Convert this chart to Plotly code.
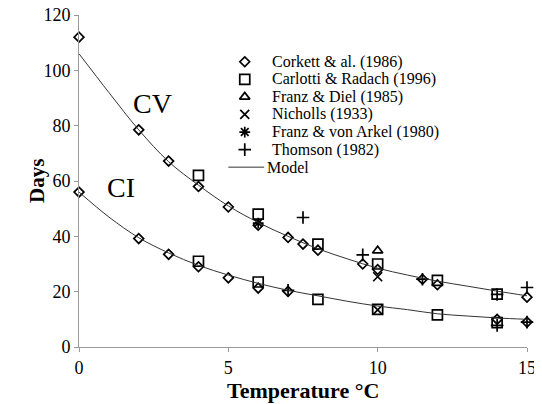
import plotly.graph_objects as go

corkett_t = [0, 2, 3, 4, 5, 6, 7, 7.5, 8, 9.5, 10, 11.5, 12, 15,
             0, 2, 3, 4, 5, 6, 7, 14, 15]
corkett_d = [112, 78.5, 67.2, 58, 50.6, 44, 39.6, 37.2, 35, 30, 28, 24.5, 22.5, 18,
             56, 39.2, 33.5, 29, 25, 21.3, 20.1, 10, 9]

carlotti_t = [4, 6, 8, 10, 12, 14, 4, 6, 8, 10, 12, 14]
carlotti_d = [62, 48, 37.2, 30, 24.1, 19.1, 31, 23.5, 17.2, 13.6, 11.6, 8.8]

franz_diel_t = [10]
franz_diel_d = [34.8]

nicholls_t = [10, 10]
nicholls_d = [25.4, 13.4]

franz_arkel_t = [6]
franz_arkel_d = [44.8]

thomson_t = [7.5, 9.5, 11.5, 14, 15, 7, 14, 15]
thomson_d = [46.8, 33.3, 24.5, 19, 21.5, 20.5, 7.8, 9]

# Model curves
model_t = list(range(16))
model_cv = [106, 92, 78.5, 67, 58.5, 51, 45, 40, 35.5, 31.8, 28.5, 26, 23.8, 22, 20.2, 18.5]
model_ci = [56, 47, 39.5, 34, 29.5, 26, 23, 20.5, 18.5, 16.5, 14.8, 13.5, 12, 11.2, 10.5, 10]

serif = "Liberation Serif"

# legend drawn by hand (placed in data units, top-right of the curves)
LEG_X = 5.55
LEG_TEXT_X = 6.38
LEG_TOP = 103.1
LEG_STEP = 6.35

fig = go.Figure()

series = [
    ("Corkett & al. (1986)", corkett_t, corkett_d, "diamond-open", 7.5),
    ("Carlotti & Radach (1996)", carlotti_t, carlotti_d, "square-open", 10),
    ("Franz & Diel (1985)", franz_diel_t, franz_diel_d, "triangle-up-open", 9),
    ("Nicholls (1933)", nicholls_t, nicholls_d, "x-thin-open", 9),
    ("Franz & von Arkel (1980)", franz_arkel_t, franz_arkel_d, "asterisk-open", 9),
    ("Thomson (1982)", thomson_t, thomson_d, "cross-thin-open", 9),
]
for i, (name, xs, ys, sym, size) in enumerate(series):
    mk = dict(symbol=sym, size=size, color="black",
              line=dict(color="black", width=1.7))
    fig.add_trace(go.Scatter(x=xs, y=ys, mode="markers", name=name,
                             marker=mk, cliponaxis=False, showlegend=False))
    ly = LEG_TOP - i * LEG_STEP
    fig.add_trace(go.Scatter(x=[LEG_X], y=[ly], mode="markers", marker=mk,
                             showlegend=False, hoverinfo="skip"))
    fig.add_annotation(x=LEG_TEXT_X, y=ly, text=name, showarrow=False,
                       xanchor="left", yanchor="middle",
                       font=dict(family=serif, size=16, color="black"))

line_style = dict(color="#333", width=1, shape="spline")
fig.add_trace(go.Scatter(x=model_t, y=model_cv, mode="lines", name="Model",
                         line=line_style, showlegend=False))
fig.add_trace(go.Scatter(x=model_t, y=model_ci, mode="lines", name="Model",
                         line=line_style, showlegend=False))

ly = LEG_TOP - 6 * LEG_STEP
fig.add_trace(go.Scatter(x=[5.0, 6.2], y=[ly, ly], mode="lines",
                         line=dict(color="#333", width=1), showlegend=False,
                         hoverinfo="skip"))
fig.add_annotation(x=6.23, y=ly, text="Model", showarrow=False,
                   xanchor="left", yanchor="middle",
                   font=dict(family=serif, size=16, color="black"))

fig.add_annotation(x=2.46, y=88, text="CV", showarrow=False,
                   font=dict(family=serif, size=28, color="black"))
fig.add_annotation(x=1.42, y=57.6, text="CI", showarrow=False,
                   font=dict(family=serif, size=28, color="black"))

# axis titles
fig.add_annotation(x=0.5, y=0, xref="paper", yref="paper", yshift=-43,
                   text="<b>Temperature °C</b>", showarrow=False, yanchor="middle",
                   font=dict(family=serif, size=22, color="black"))
fig.add_annotation(x=0, y=0.5, xref="paper", yref="paper", xshift=-56,
                   text="<b>Days</b>", showarrow=False, textangle=-90,
                   font=dict(family=serif, size=21, color="black"))

fig.update_layout(
    width=534, height=396,
    margin=dict(l=71, r=15, t=7, b=57),
    plot_bgcolor="white", paper_bgcolor="white",
    font=dict(family=serif, size=18, color="black"),
    showlegend=False,
    xaxis=dict(range=[0, 15], dtick=5, showgrid=False, zeroline=False,
               showline=True, linecolor="#999", linewidth=1,
               ticks="outside", ticklen=4, tickcolor="#999", automargin=False,
               ticklabeloverflow="allow"),
    yaxis=dict(range=[0, 120], dtick=20, showgrid=False, zeroline=False,
               showline=True, linecolor="#999", linewidth=1,
               ticks="outside", ticklen=4, tickcolor="#999", automargin=False,
               ticklabeloverflow="allow"),
)

fig.write_html("out.html")
